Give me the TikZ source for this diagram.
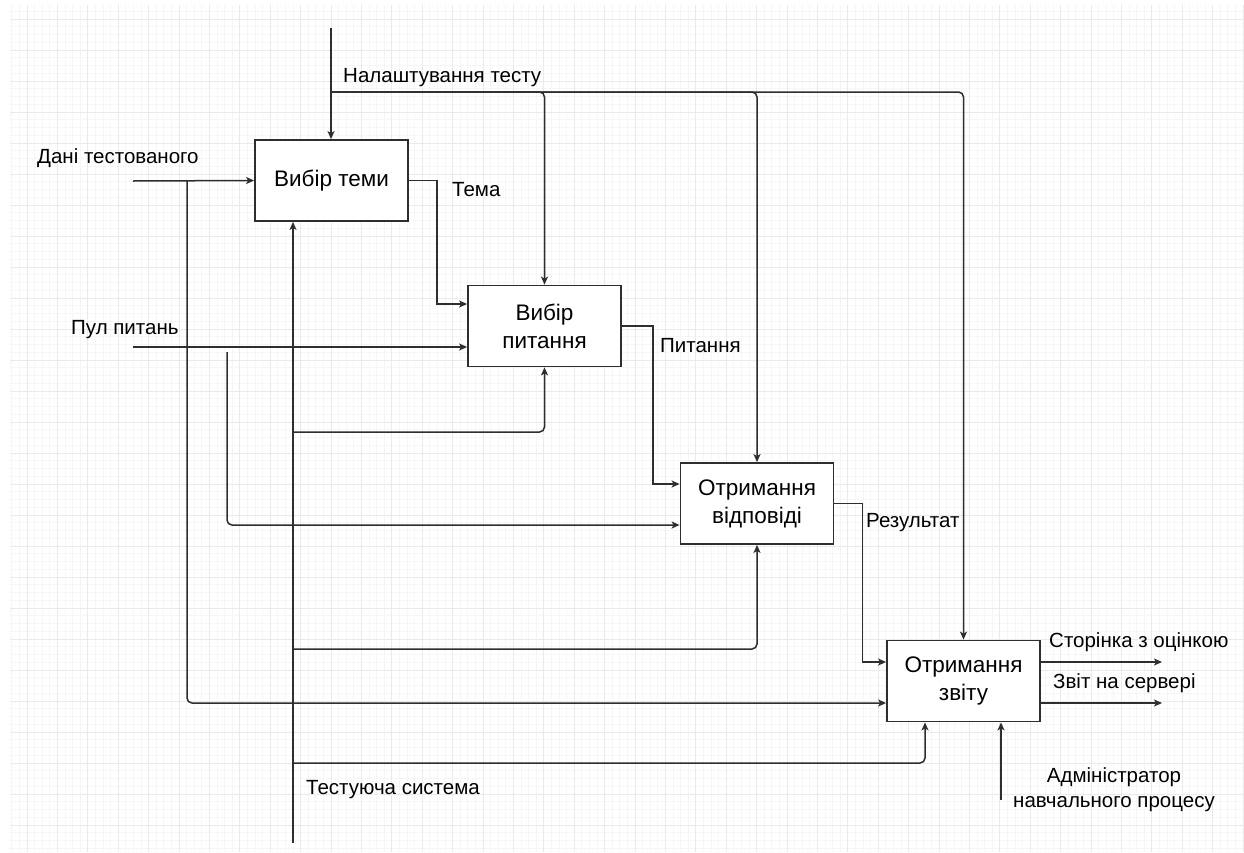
\documentclass[tikz,border=0pt]{standalone}
\usepackage{fontspec}
\setmainfont{Liberation Sans}
\usetikzlibrary{arrows.meta,calc}
\definecolor{ln}{HTML}{2E2E2E}
\definecolor{gminor}{HTML}{F6F6F6}
\definecolor{gmajor}{HTML}{EAEAEA}
\tikzset{
  box/.style={draw=ln, line width=1.8pt, fill=white, minimum width=153pt, minimum height=81pt, inner sep=0pt, align=center, font=\fontsize{22.5}{28}\selectfont},
  lbl/.style={inner sep=0pt, font=\fontsize{20.5}{25}\selectfont},
  wire/.style={draw=ln, line width=1.5pt},
  arr/.style={wire, -{Stealth[length=8pt,width=7pt,inset=2pt]}},
  rc/.style={rounded corners=5pt}
}
\begin{document}
\begin{tikzpicture}[x=1pt,y=-1pt]
\useasboundingbox (0,0) rectangle (1244,852);
\fill[white] (0,0) rectangle (1244,852);
% grid
\begin{scope}
\clip (10,5) rectangle (1244,852);
\foreach \i in {0,...,162} { \draw[gminor, line width=0.8pt] ({11.8+7.6*\i},5) -- ({11.8+7.6*\i},852); }
\foreach \i in {0,...,109} { \draw[gminor, line width=0.8pt] (10,{11.25+7.75*\i}) -- (1244,{11.25+7.75*\i}); }
\foreach \i in {0,...,40} { \draw[gmajor, line width=1pt] ({27+30.4*\i},5) -- ({27+30.4*\i},852); }
\foreach \i in {0,...,27} { \draw[gmajor, line width=1pt] (10,{19+31*\i}) -- (1244,{19+31*\i}); }
\end{scope}

% boxes
\node[box] (b1) at (331.5,180.5) {Вибір теми};
\node[box] (b2) at (544.5,326) {Вибір\\питання};
\node[box] (b3) at (757,503.5) {Отримання\\відповіді};
\node[box] (b4) at (963.5,681) {Отримання\\звіту};

% coordinates
\coordinate (ctl) at (331,28);
\coordinate (ctlj) at (331,92);
\coordinate (in1) at (133,181);
\coordinate (in1j) at (187,181);
\coordinate (in2) at (133,347);
\coordinate (in2j) at (227,352);
\coordinate (mech) at (293,843);
\coordinate (mj1) at (293,432);
\coordinate (mj2) at (293,649);
\coordinate (mj3) at (293,763);
\coordinate (adm) at (1001,800);
\coordinate (o1) at (1162,662);
\coordinate (o2) at (1162,703);

% control
\draw[arr] (ctl) -- (b1.north -| ctl);
\draw[arr,rc] (ctlj) -| (b2.north);
\draw[arr,rc] (ctlj) -| (b3.north);
\draw[arr,rc] (ctlj) -| (b4.north);

% inputs
\draw[arr] (in1) -- (b1.west);
\draw[arr,rc] (in1j) |- ($(b4.west)+(0,22)$);
\draw[arr] (in2) -- ($(b2.west)+(0,21)$);
\draw[arr,rc] (in2j) |- ($(b3.west)+(0,21.5)$);

% outputs between boxes
\draw[arr] (b1.east) -- ++(28,0) |- ($(b2.west)+(0,-22)$);
\draw[arr] (b2.east) -- ++(31,0) |- ($(b3.west)+(0,-19.5)$);
\draw[arr] (b3.east) -- ++(28,0) |- ($(b4.west)+(0,-19)$);

% mechanisms
\draw[arr] (mech) -- (b1.south -| mech);
\draw[arr,rc] (mj1) -| (b2.south);
\draw[arr,rc] (mj2) -| (b3.south);
\draw[arr,rc] (mj3) -| ($(b4.south)+(-38.5,0)$);
\draw[arr] (adm) -- (b4.south -| adm);

% final outputs
\draw[arr] ($(b4.east)+(0,-19)$) -- (o1);
\draw[arr] ($(b4.east)+(0,22)$) -- (o2);

% labels
\node[lbl, anchor=base west] (l1) at (343,82.5) {Налаштування тесту};
\node[lbl, anchor=base west] (l2) at (37,163.5) {Дані тестованого};
\node[lbl, anchor=base west] (l3) at (452,196) {Тема};
\node[lbl, anchor=base west] (l4) at (71,334) {Пул питань};
\node[lbl, anchor=base west] (l5) at (660,352) {Питання};
\node[lbl, anchor=base west] (l6) at (866,527) {Результат};
\node[lbl, anchor=base west] (l7) at (1049,647) {Сторінка з оцінкою};
\node[lbl, anchor=base west] (l8) at (1053,688) {Звіт на сервері};
\node[lbl, anchor=base west] (l9) at (306,794) {Тестуюча система};
\node[lbl, anchor=base] (l10) at (1114,782) {Адміністратор};
\node[lbl, anchor=base] (l11) at (1114,807) {навчального процесу};
\end{tikzpicture}
\end{document}
